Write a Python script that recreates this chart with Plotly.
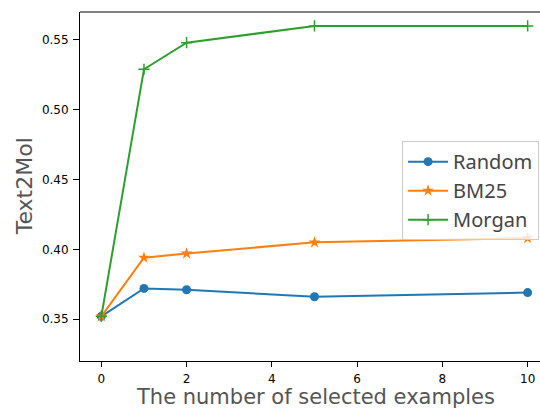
import plotly.graph_objects as go

x_vals = [0, 1, 2, 5, 10]
random_vals = [0.352, 0.372, 0.371, 0.366, 0.369]
bm25_vals = [0.352, 0.394, 0.397, 0.405, 0.408]
morgan_vals = [0.352, 0.529, 0.548, 0.560, 0.560]
x_ticks = [0, 2, 4, 6, 8, 10]
y_ticks = [0.35, 0.40, 0.45, 0.50, 0.55]
y_tick_text = ["0.35", "0.40", "0.45", "0.50", "0.55"]

fig = go.Figure()
fig.add_trace(go.Scatter(x=x_vals, y=random_vals, name="Random", mode="lines+markers",
                         legendgroup="a",
                         line=dict(color="#1f77b4", width=2),
                         marker=dict(symbol="circle", size=9, color="#1f77b4")))
fig.add_trace(go.Scatter(x=x_vals, y=bm25_vals, name="BM25", mode="lines+markers",
                         legendgroup="b",
                         line=dict(color="#ff7f0e", width=2),
                         marker=dict(symbol="star", size=9, color="#ff7f0e")))
fig.add_trace(go.Scatter(x=x_vals, y=morgan_vals, name="Morgan", mode="lines+markers",
                         legendgroup="c",
                         line=dict(color="#2ca02c", width=2),
                         marker=dict(symbol="cross-thin", size=8, color="#2ca02c",
                                     line=dict(color="#2ca02c", width=1.5))))

fig.update_layout(
    width=540, height=409,
    margin=dict(l=80, r=0, t=12, b=48, autoexpand=False),
    paper_bgcolor="white", plot_bgcolor="white",
    showlegend=True,
    legend=dict(x=0.998, y=0.63, xanchor="right", yanchor="top",
                bgcolor="rgba(255,255,255,0.8)", bordercolor="#cccccc", borderwidth=1,
                font=dict(family="Noto Sans", size=20, color="#444444"),
                tracegroupgap=0, itemwidth=40),
    xaxis=dict(range=[-0.5, 10.29], tickvals=x_ticks, ticks="outside", ticklen=5,
               tickcolor="black", showline=True, linecolor="black", linewidth=1,
               showgrid=False, zeroline=False, ticklabelstandoff=2,
               tickfont=dict(family="DejaVu Sans", size=12, color="black")),
    yaxis=dict(range=[0.320, 0.570], tickvals=y_ticks, ticktext=y_tick_text,
               ticks="outside", ticklen=6, tickcolor="black", showline=True,
               linecolor="black", linewidth=1, showgrid=False, zeroline=False,
               ticklabelstandoff=2,
               tickfont=dict(family="DejaVu Sans", size=12, color="black")),
    shapes=[dict(type="line", xref="paper", yref="paper", x0=0, x1=1, y0=1, y1=1,
                 line=dict(color="black", width=1))],
    annotations=[
        dict(text="The number of selected examples", xref="paper", yref="paper",
             x=0.511, y=-0.103, xanchor="center", yanchor="middle",
             showarrow=False, font=dict(family="DejaVu Sans", size=21, color="#555555")),
        dict(text="Text2Mol", xref="paper", yref="paper", x=-0.120, y=0.5,
             xanchor="center", yanchor="middle", textangle=-90,
             showarrow=False, font=dict(family="DejaVu Sans", size=22, color="#555555")),
    ],
)

fig.write_html("out.html", config={"displayModeBar": False},
               post_script="document.body.style.margin='0';")
